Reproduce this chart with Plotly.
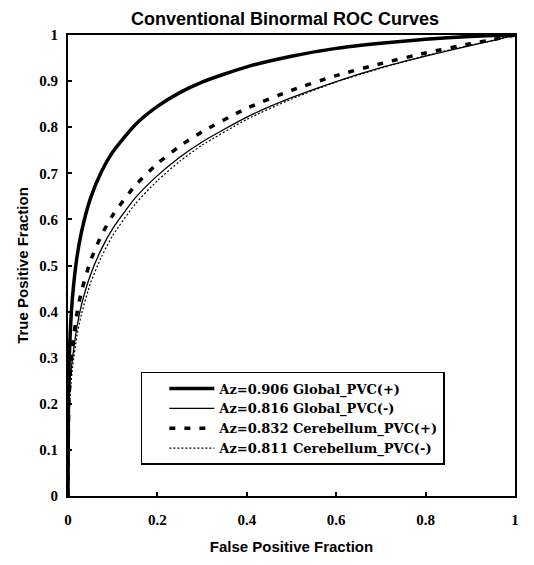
import plotly.graph_objects as go

# False positive fraction sample points
fpf = [0, 0.001, 0.0025, 0.005, 0.01, 0.02, 0.03, 0.05, 0.075, 0.1, 0.15,
       0.2, 0.25, 0.3, 0.4, 0.5, 0.6, 0.7, 0.8, 0.9, 0.95, 1]

# True positive fractions for each curve
tpf_global_pos = [0, 0.216, 0.288, 0.354, 0.431, 0.518, 0.572, 0.645, 0.704, 0.746, 0.805,
                  0.845, 0.875, 0.898, 0.931, 0.954, 0.971, 0.982, 0.991, 0.997, 0.999, 1]
tpf_global_neg = [0, 0.150, 0.215, 0.255, 0.298, 0.367, 0.414, 0.479, 0.536, 0.580, 0.646,
                  0.695, 0.735, 0.768, 0.822, 0.864, 0.899, 0.929, 0.954, 0.977, 0.988, 1]
tpf_cereb_pos = [0, 0.161, 0.214, 0.265, 0.325, 0.396, 0.443, 0.509, 0.566, 0.609, 0.673,
                 0.721, 0.759, 0.790, 0.841, 0.880, 0.912, 0.938, 0.961, 0.981, 0.990, 1]
tpf_cereb_neg = [0, 0.127, 0.175, 0.221, 0.278, 0.347, 0.394, 0.461, 0.519, 0.565, 0.633,
                 0.684, 0.726, 0.761, 0.817, 0.861, 0.898, 0.928, 0.955, 0.978, 0.988, 1]

series_names = ["Az=0.906 Global_PVC(+)", "Az=0.816 Global_PVC(-)",
                "Az=0.832 Cerebellum_PVC(+)", "Az=0.811 Cerebellum_PVC(-)"]

x_tickvals = [0, 0.2, 0.4, 0.6, 0.8, 1]
x_ticktext = ["0", "0.2", "0.4", "0.6", "0.8", "1"]
y_tickvals = [0, 0.1, 0.2, 0.3, 0.4, 0.5, 0.6, 0.7, 0.8, 0.9, 1]
y_ticktext = ["0", "0.1", "0.2", "0.3", "0.4", "0.5", "0.6", "0.7", "0.8", "0.9", "1"]

serif = "Liberation Serif, Times New Roman, serif"
wide_serif = "DejaVu Serif, Liberation Serif, serif"
sans = "Liberation Sans, Arial, sans-serif"

fig = go.Figure()
styles = [
    dict(color="black", width=3.5, dash="solid"),
    dict(color="black", width=1.3, dash="solid"),
    dict(color="black", width=3.5, dash="6px,9px"),
    dict(color="black", width=1.2, dash="2px,2px"),
]
for name, ys, st in zip(series_names,
                        [tpf_global_pos, tpf_global_neg, tpf_cereb_pos, tpf_cereb_neg],
                        styles):
    fig.add_trace(go.Scatter(x=fpf, y=ys, mode="lines", name=name,
                             line=dict(shape="spline", smoothing=0.6, **st)))

axis_common = dict(
    range=[0, 1], showgrid=False, zeroline=False,
    showline=True, linecolor="black", linewidth=2, mirror=True,
    ticks="inside", ticklen=4, tickwidth=1.5, tickcolor="black",
    tickfont=dict(family=serif, size=15, color="black", weight="bold"),
)

# page body adds an 8px offset, so the figure is sized to the remaining window
W, H = 526, 557
fig.update_layout(
    width=W, height=H,
    margin=dict(l=60, r=19, t=27, b=69),
    paper_bgcolor="white", plot_bgcolor="white",
    title=dict(text="Conventional Binormal ROC Curves", x=277 / W, xanchor="center",
               y=1 - 11 / H, yanchor="middle",
               font=dict(family=sans, size=18, color="black", weight="bold")),
    xaxis=dict(tickvals=x_tickvals, ticktext=x_ticktext, ticklabelstandoff=9,
               title=dict(text="False Positive Fraction", standoff=14,
                          font=dict(family=sans, size=15, color="black", weight="bold")),
               **axis_common),
    yaxis=dict(tickvals=y_tickvals, ticktext=y_ticktext, ticklabelstandoff=5,
               title=dict(text="True Positive Fraction", standoff=7,
                          font=dict(family=sans, size=15, color="black", weight="bold")),
               **axis_common),
    legend=dict(x=0.163, y=0.269, xanchor="left", yanchor="top",
                bordercolor="black", borderwidth=1.5, bgcolor="white",
                font=dict(family=wide_serif, size=13, color="black", weight="bold"),
                itemwidth=45, indentation=22, tracegroupgap=0),
    showlegend=True,
)

fig.write_html("out.html")
